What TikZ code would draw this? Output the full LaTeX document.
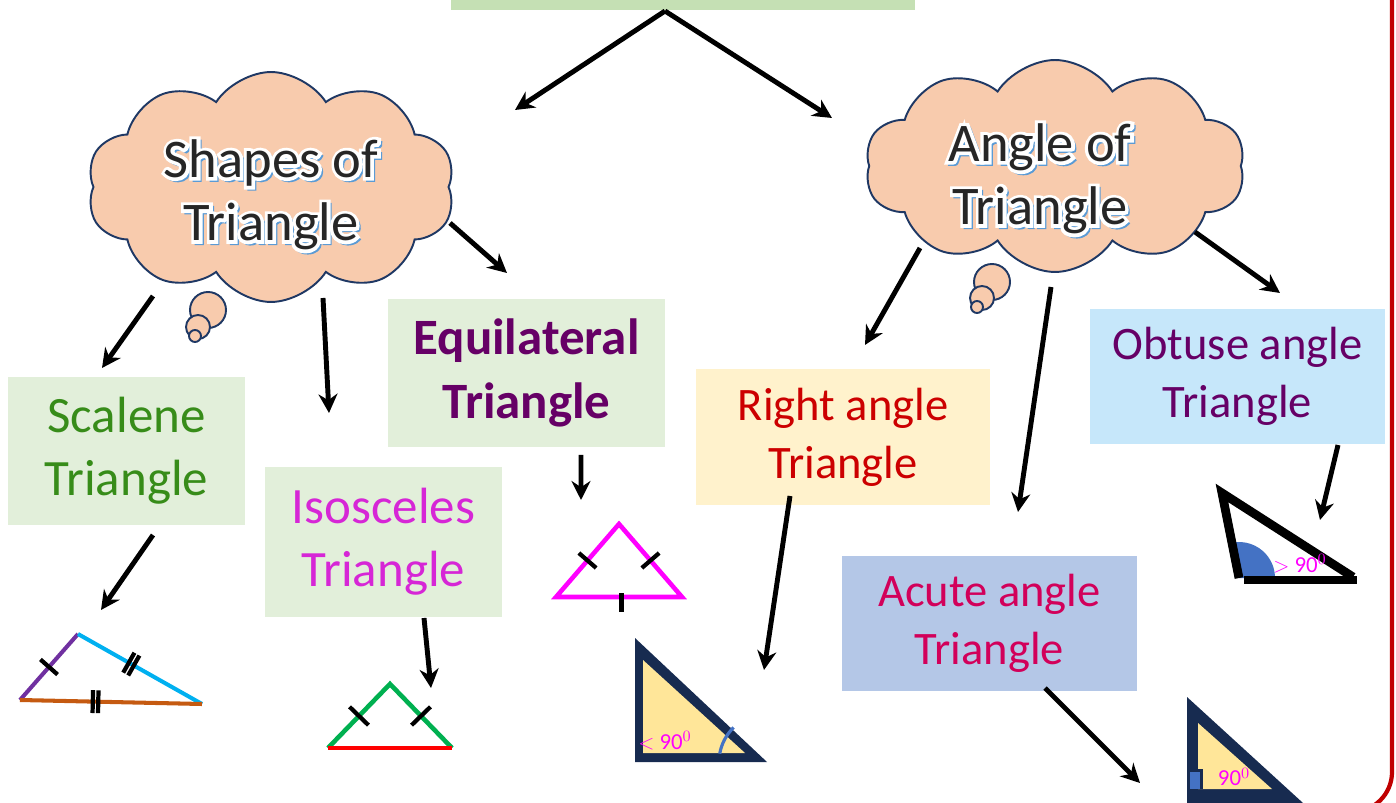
\documentclass[tikz,border=0pt]{standalone}
\usepackage{fontspec}
\setmainfont{Carlito}
\newfontfamily\haloface[FakeBold=12]{Carlito}
\newfontfamily\shadeface[FakeBold=8]{Carlito}
\usetikzlibrary{arrows.meta,shapes.symbols}
\definecolor{topgreen}{RGB}{197,224,180}
\definecolor{palegreen}{RGB}{226,239,218}
\definecolor{paleyellow}{RGB}{255,242,204}
\definecolor{paleblue}{RGB}{180,199,231}
\definecolor{palesky}{RGB}{198,231,250}
\definecolor{cloudfill}{RGB}{248,203,173}
\definecolor{cloudline}{RGB}{31,56,100}
\definecolor{clouddark}{RGB}{38,38,38}
\definecolor{glowblue}{RGB}{91,155,213}
\definecolor{grass}{RGB}{55,140,25}
\definecolor{orchid}{RGB}{214,38,214}
\definecolor{plum}{RGB}{102,0,102}
\definecolor{scarlet}{RGB}{204,0,0}
\definecolor{crimson}{RGB}{210,0,90}
\definecolor{navy}{RGB}{23,43,80}
\definecolor{butter}{RGB}{255,230,153}
\definecolor{steel}{RGB}{68,114,196}
\definecolor{fuchsia}{RGB}{255,0,255}
\definecolor{violet}{RGB}{112,48,160}
\definecolor{cyan}{RGB}{0,176,240}
\definecolor{rust}{RGB}{197,90,17}
\definecolor{emerald}{RGB}{0,176,80}
\definecolor{maroon}{RGB}{192,0,0}
% outlined title text: blue shadow, white halo, dark letters
\newcommand\glow[1]{\leavevmode
  \rlap{\kern1.3pt\raisebox{-1.3pt}{\shadeface\color{glowblue}#1}}%
  \rlap{\haloface\color{white}#1}%
  {\color{clouddark}#1}}
\tikzset{
  >={Stealth[length=3.8mm,width=3.8mm]},
  flow/.style={->,line width=2.8pt,draw=black},
  box/.style={fill=#1,inner sep=0pt,align=center,font=\fontsize{29}{36}\selectfont},
  box/.default=palegreen,
  rbox/.style={box=#1,font=\fontsize{26.5}{33}\selectfont},
  bubble/.style={cloud,cloud puffs=10,cloud puff arc=115,cloud ignores aspect,
    draw=cloudline,fill=cloudfill,line width=1.1pt},
  title/.style={align=center,inner sep=0pt,font=\fontsize{31}{36}\selectfont},
  puff/.style={circle,draw=cloudline,fill=cloudfill,line width=1.1pt,inner sep=0pt},
  tick/.style={fill=black,inner sep=0pt,minimum width=2.4pt,minimum height=#1,sloped},
  tick/.default=13pt,
  angle/.style={text=fuchsia,font=\rmfamily\fontsize{13}{14}\selectfont,inner sep=0pt},
  frame/.style={draw=maroon,line width=2.4pt,rounded corners=0.8cm},
}
\begin{document}
\begin{tikzpicture}[x=0.02cm,y=-0.02cm]
\useasboundingbox (0,0) rectangle (1396,803);
\draw[frame] (1392,-30) -- (1392,812) -- (1150,812);

% heading and the two clouds
\node[box=topgreen,minimum width=9.28cm,minimum height=1.2cm] (topbox) at (683,-20) {};
\coordinate (fork) at (665,11);
\node[bubble,minimum width=7.36cm,minimum height=4.6cm] (lcloud) at (271,187) {};
\node[title] (ltitle) at (271,196) {\glow{Shapes of}\\\glow{Triangle}};
\node[puff,minimum size=0.72cm] (lp1) at (208,310) {};
\node[puff,minimum size=0.48cm] (lp2) at (198,327) {};
\node[puff,minimum size=0.24cm] (lp3) at (195,336) {};
\node[bubble,minimum width=7.6cm,minimum height=4.24cm] (rcloud) at (1055,166) {};
\node[title] (rtitle) at (1040,180) {\glow{Angle of}\\\glow{Triangle}};
\node[puff,minimum size=0.72cm] (rp1) at (992,282) {};
\node[puff,minimum size=0.48cm] (rp2) at (982,298) {};
\node[puff,minimum size=0.24cm] (rp3) at (977,307) {};

% kinds of triangle
\node[box,text=grass,minimum width=4.74cm,minimum height=2.96cm] (scal) at (126.5,451) {Scalene\\Triangle};
\node[box,text=orchid,minimum width=4.74cm,minimum height=3cm] (isos) at (383.5,542) {Isosceles\\Triangle};
\node[box,text=plum,font=\fontsize{29}{36}\selectfont\bfseries,minimum width=5.54cm,minimum height=2.96cm] (equi) at (526.5,373) {Equilateral\\Triangle};
\node[rbox=paleyellow,text=scarlet,minimum width=5.88cm,minimum height=2.72cm] (rang) at (843,437) {Right angle\\Triangle};
\node[rbox=paleblue,text=crimson,minimum width=5.9cm,minimum height=2.7cm] (acut) at (989.5,623.5) {Acute angle\\Triangle};
\node[rbox=palesky,text=plum,minimum width=5.9cm,minimum height=2.7cm] (obtu) at (1237.5,376.5) {Obtuse angle\\Triangle};

% scalene
\coordinate (sA) at (20,700); \coordinate (sB) at (78,634); \coordinate (sC) at (202,704);
\draw[violet,line width=2.3pt] (sA) -- (sB);
\draw[cyan,line width=2.3pt] (sB) -- (sC);
\draw[rust,line width=2.3pt] (sA) -- (sC);
\path (sA) -- (sB) node[tick,pos=.5]{};
\path (sB) -- (sC) node[tick,pos=.41]{} node[tick,pos=.45]{};
\path (sA) -- (sC) node[tick,pos=.4]{} node[tick,pos=.43]{};

% isosceles
\coordinate (iA) at (328,748); \coordinate (iB) at (390,684); \coordinate (iC) at (452,748);
\draw[emerald,line width=2.6pt] (iA) -- (iB) -- (iC);
\draw[red,line width=2.6pt] (iA) -- (iC);
\path (iA) -- (iB) node[tick=15pt,pos=.5]{};
\path (iB) -- (iC) node[tick=15pt,pos=.5]{};

% equilateral
\coordinate (eA) at (556,597); \coordinate (eB) at (619,524); \coordinate (eC) at (682,597);
\draw[fuchsia,line width=2.6pt] (eA) -- (eB) -- (eC) -- cycle;
\path (eA) -- (eB) node[tick,pos=.5]{};
\path (eB) -- (eC) node[tick,pos=.5]{};
\path (eA) -- (eC) node[tick=11pt,pos=.52,yshift=-3pt]{};

% right angle
\coordinate (rA) at (635,638); \coordinate (rB) at (635,762); \coordinate (rC) at (767,762);
\fill[navy] (rA) -- (rB) -- (rC) -- cycle;
\fill[butter] (643,660) -- (643,753) -- (745,753) -- cycle;
\draw[steel,line width=1.8pt] ([shift={(190:48)}]rC) arc[start angle=190,end angle=226,radius=48];
\node[angle,anchor=west] (lt) at (638,741) {$<$ 90$^{0}$};

% acute angle
\coordinate (aA) at (1187,697); \coordinate (aB) at (1187,803); \coordinate (aC) at (1303,803);
\fill[navy] (aA) -- (aB) -- (aC) -- cycle;
\fill[butter] (1198,723) -- (1198,789) -- (1272,789) -- cycle;
\fill[navy] (1187,769) rectangle (1203,789);
\fill[steel] (1190,772) rectangle (1200,789);
\node[angle] (nt) at (1234,777) {90$^{0}$};

% obtuse angle
\coordinate (oA) at (1222,493); \coordinate (oB) at (1239,578); \coordinate (oC) at (1353,577);
\fill[steel] (oB) -- ++(259:36) arc[start angle=259,end angle=360,radius=36] -- cycle;
\draw[black,line width=5pt] (oB) -- (oA) -- (oC);
\draw[black,line width=5pt] (1244,580) -- (1357,580);
\node[angle] (gt) at (1300,564) {$>$ 90$^{0}$};

% connectors
\draw[flow] (fork) -- ([shift={(244,-77)}]lcloud.center);
\draw[flow] (fork) -- ([shift={(-223,-48)}]rcloud.center);
\draw[flow] ([shift={(-118,109)}]lcloud.center) -- ([shift={(-24.5,-83)}]scal.center);
\draw[flow] ([shift={(52,111)}]lcloud.center) -- ([shift={(-54.5,-129)}]isos.center);
\draw[flow] ([shift={(179,36)}]lcloud.center) -- ([shift={(-19.5,-100)}]equi.center);
\draw[flow] ([shift={(26.5,84)}]scal.center) -- ([shift={(23,-24)}]sB);
\draw[flow] ([shift={(40.5,76)}]isos.center) -- ([shift={(41,4)}]iB);
\draw[flow] ([shift={(54.5,82)}]equi.center) -- ([shift={(-38,-24)}]eB);
\draw[flow] ([shift={(-135,82)}]rcloud.center) -- ([shift={(22,-92)}]rang.center);
\draw[flow] ([shift={(-4,121)}]rcloud.center) -- ([shift={(28.5,-111.5)}]acut.center);
\draw[flow] ([shift={(140,66)}]rcloud.center) -- ([shift={(42.5,-83.5)}]obtu.center);
\draw[flow] ([shift={(-53,59)}]rang.center) -- ([shift={(-3,-92)}]rC);
\draw[flow] ([shift={(55.5,64.5)}]acut.center) -- ([shift={(-47,86)}]aA);
\draw[flow] ([shift={(100.5,68.5)}]obtu.center) -- ([shift={(-33,-57)}]oC);
\end{tikzpicture}
\end{document}
